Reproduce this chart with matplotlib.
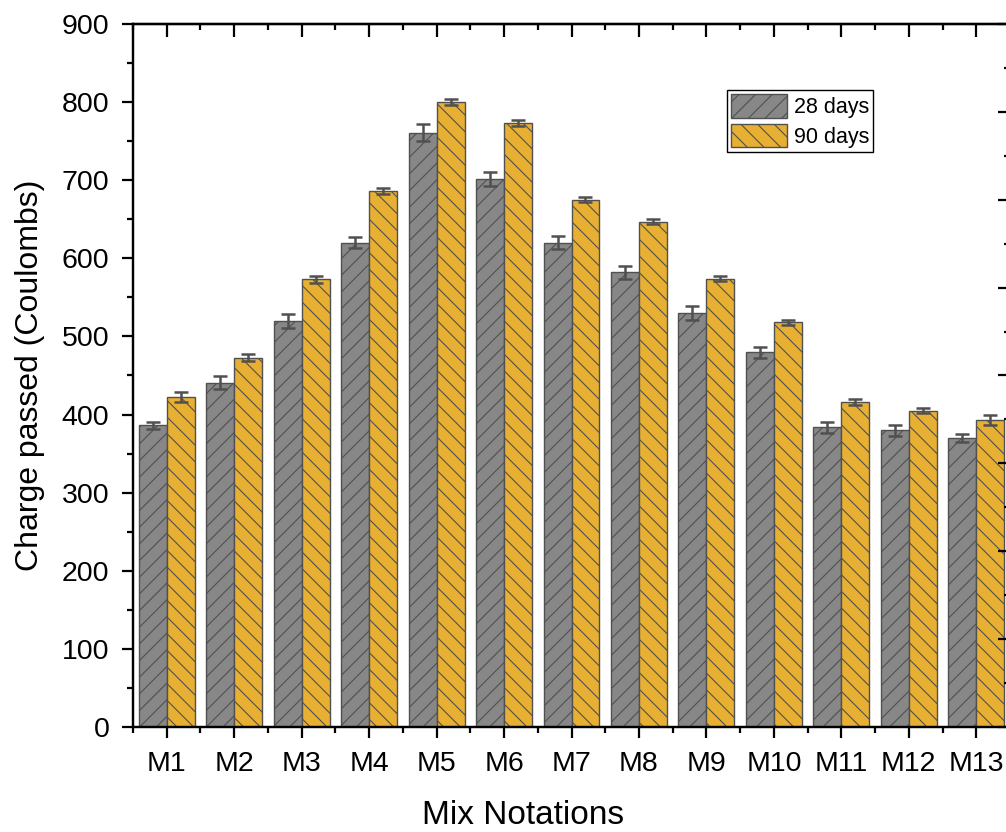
import matplotlib
matplotlib.use("Agg")
import matplotlib.pyplot as plt
import numpy as np
from matplotlib.ticker import MultipleLocator, FixedLocator

plt.rcParams['font.family'] = ['Liberation Sans', 'DejaVu Sans']
plt.rcParams['hatch.linewidth'] = 0.8
plt.rcParams['hatch.color'] = '#505050'

mixes = ['M1', 'M2', 'M3', 'M4', 'M5', 'M6', 'M7', 'M8', 'M9', 'M10', 'M11', 'M12', 'M13']
days28 = [386, 441, 520, 620, 761, 701, 620, 582, 530, 480, 384, 380, 370]
err28 = [4.5, 8, 9, 7, 11, 9, 8, 8, 9, 7, 7, 7, 5]
days90 = [422, 473, 573, 686, 800, 773, 675, 647, 574, 518, 416, 405, 393]
err90 = [6.5, 4, 4, 3.5, 4, 4, 3.5, 3.5, 3.5, 3.5, 3.5, 3.5, 7]

gray = '#878787'
yellow = '#E8B032'
edge = '#505050'

fig = plt.figure(figsize=(10.06, 8.32), dpi=100)
ax = fig.add_axes([133 / 1006, 1 - 727 / 832, (1010 - 133) / 1006, (727 - 24) / 832])

x = np.arange(1, len(mixes) + 1)
w = 0.415
ekw = dict(ecolor=edge, elinewidth=1.8, capthick=1.8)
ax.bar(x - w / 2, days28, w, yerr=err28, capsize=5, color=gray, edgecolor=edge,
       linewidth=1.0, hatch='//', label='28 days', error_kw=ekw, zorder=2)
ax.bar(x + w / 2, days90, w, yerr=err90, capsize=5, color=yellow, edgecolor=edge,
       linewidth=1.0, hatch='\\\\', label='90 days', error_kw=ekw, zorder=2)

ax.set_xlim(0.5, 13.5)
ax.set_ylim(0, 900)
ax.set_xticks(x)
ax.set_xticklabels(mixes)
ax.xaxis.set_minor_locator(FixedLocator(np.arange(0.5, 14, 1.0)))
ax.yaxis.set_major_locator(MultipleLocator(100))
ax.yaxis.set_minor_locator(MultipleLocator(50))

for s in ax.spines.values():
    s.set_linewidth(1.6)
ax.tick_params(which='major', direction='out', length=8, width=1.6, labelsize=20.5, pad=9)
ax.tick_params(which='minor', direction='out', length=4, width=1.6)
ax.tick_params(axis='y', right=False, which='both')

# top ticks point inward
top = ax.secondary_xaxis('top')
top.set_xticks(x)
top.xaxis.set_minor_locator(FixedLocator(np.arange(0.5, 14, 1.0)))
top.tick_params(which='major', direction='in', length=9, width=1.6, labeltop=False)
top.tick_params(which='minor', direction='in', length=4.5, width=1.6)
top.spines['top'].set_linewidth(1.6)

# secondary right axis (cut off in the original)
ax2 = ax.twinx()
ax2.set_ylim(0, 8)
ax2.yaxis.set_major_locator(MultipleLocator(1))
ax2.yaxis.set_minor_locator(MultipleLocator(0.5))
ax2.tick_params(which='major', direction='in', length=9, width=1.6, labelright=False)
ax2.tick_params(which='minor', direction='in', length=4.5, width=1.6)
for s in ax2.spines.values():
    s.set_linewidth(1.6)

ax.set_xlabel('Mix Notations', fontsize=24)
ax.set_ylabel('Charge passed (Coulombs)', fontsize=23)
ax.xaxis.set_label_coords((523 - 133) / 877, -0.104)
ax.yaxis.set_label_coords(-(133 - 45) / 877, 0.5)

leg = ax.legend(loc='upper left', bbox_to_anchor=((727 - 133) / 877, (727 - 90) / 703),
                fontsize=15.5, frameon=True, fancybox=False, edgecolor='black',
                framealpha=1, borderpad=0.2, labelspacing=0.25, handlelength=2.6,
                handleheight=1.3, handletextpad=0.3, borderaxespad=0)
leg.get_frame().set_linewidth(1.0)

fig.savefig('out.png', dpi=100)
